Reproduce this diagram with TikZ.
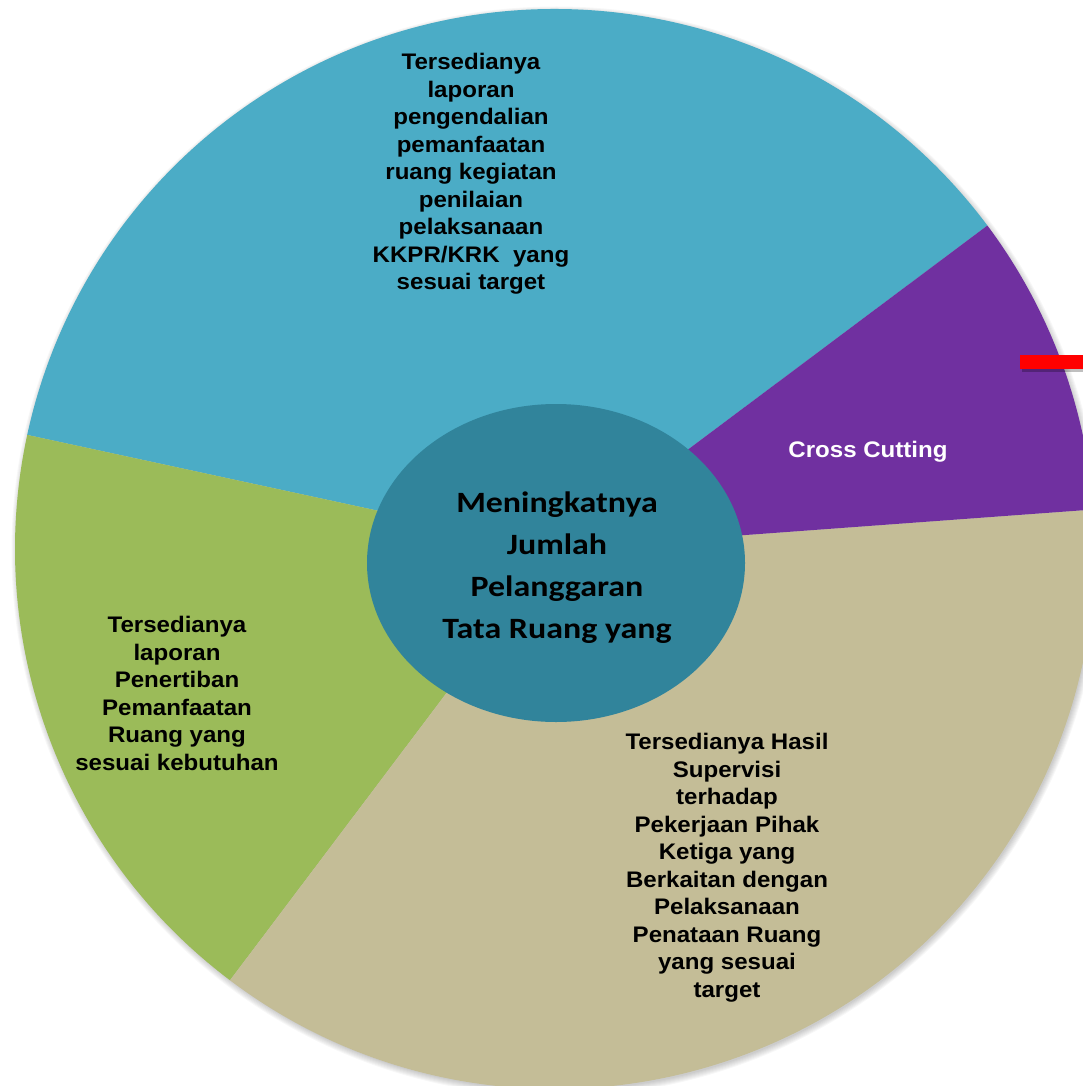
\documentclass[tikz,border=0pt]{standalone}
\usepackage{fontspec}
\setmainfont[FakeStretch=1.07]{Liberation Sans}
\newfontfamily\calfont[FakeStretch=1.15]{Carlito}
\definecolor{sliceblue}{HTML}{4BACC6}
\definecolor{slicepurple}{HTML}{7030A0}
\definecolor{slicetan}{HTML}{C4BD97}
\definecolor{slicegreen}{HTML}{9BBB59}
\definecolor{corecol}{HTML}{31849B}
\definecolor{redbar}{HTML}{FF0000}
\begin{document}
\begin{tikzpicture}[x=1pt,y=1pt,
  slicetext/.style={align=center, anchor=north, font=\fontsize{22.5}{27.5}\selectfont\bfseries, text=black, inner sep=0pt},
  coretext/.style={align=center, anchor=north, font=\calfont\fontsize{29.5}{41.7}\selectfont\bfseries, text=black, inner sep=0pt}]
\useasboundingbox (0,0) rectangle (1083,-1086);
\clip (0,0) rectangle (1083,-1086);
\coordinate (C) at (555,-549);
% soft shadow
\foreach \i in {1,...,7} \fill[black, opacity=0.03] ([shift={(1.5,-2.5)}]C) circle[radius=538+\i];
% slices
\fill[sliceblue] (C) -- ++(36.8:540pt) arc[start angle=36.8,end angle=167.8,radius=540pt] -- cycle;
\fill[slicegreen] (C) -- ++(167.8:540pt) arc[start angle=167.8,end angle=233,radius=540pt] -- cycle;
\fill[slicetan] (C) -- ++(233:540pt) arc[start angle=233,end angle=364.2,radius=540pt] -- cycle;
\fill[slicepurple] (C) -- ++(4.2:540pt) arc[start angle=4.2,end angle=36.8,radius=540pt] -- cycle;
% red bar
\fill[black, opacity=0.25] (1022,-358) rectangle (1083,-372);
\fill[redbar] (1020,-355) rectangle (1083,-369);
% core ellipse
\fill[corecol] (556,-563) ellipse[x radius=189, y radius=159];
% texts
\node[slicetext] (tblue) at (471,-53) {Tersedianya\\laporan\\pengendalian\\pemanfaatan\\ruang kegiatan\\penilaian\\pelaksanaan\\KKPR/KRK~~yang\\sesuai target};
\node[slicetext, text=white] (tpurple) at (868,-441) {Cross Cutting};
\node[slicetext] (tgreen) at (177,-616) {Tersedianya\\laporan\\Penertiban\\Pemanfaatan\\Ruang yang\\sesuai kebutuhan};
\node[slicetext] (ttan) at (727,-733) {Tersedianya Hasil\\Supervisi\\terhadap\\Pekerjaan Pihak\\Ketiga yang\\Berkaitan dengan\\Pelaksanaan\\Penataan Ruang\\yang sesuai\\target};
\node[coretext] (tcore) at (557,-492) {Meningkatnya\\Jumlah\\Pelanggaran\\Tata Ruang yang};
\end{tikzpicture}
\end{document}
